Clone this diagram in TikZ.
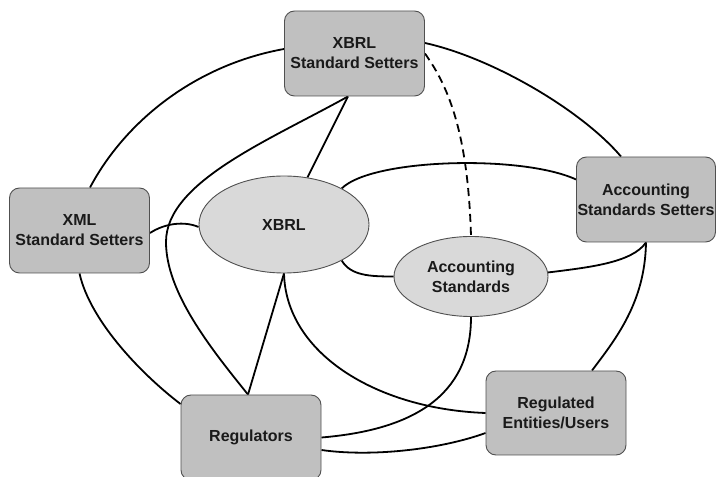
\documentclass[tikz,border=0pt]{standalone}
\usepackage{fontspec}
\setmainfont{Liberation Sans}
\usetikzlibrary{shapes.geometric,backgrounds}
\definecolor{boxfill}{HTML}{C0C0C0}
\definecolor{ovalfill}{HTML}{D9D9D9}
\definecolor{edge}{HTML}{505050}
\definecolor{ink}{HTML}{1A1A1A}

\begin{document}
\begin{tikzpicture}[x=1pt,y=1pt,
  label text/.style={font=\fontsize{16}{20}\selectfont\bfseries, text=ink, align=center},
  party/.style={label text, draw=edge, line width=0.9pt, fill=boxfill,
    rounded corners=10pt, minimum width=140pt, minimum height=85pt, inner sep=0pt},
  topic/.style={label text, ellipse, draw=edge, line width=0.9pt, fill=ovalfill, inner sep=0pt},
  link/.style={line width=1.8pt, black},
  loose link/.style={link, dash pattern=on 8pt off 5pt}]
\useasboundingbox (0,0) rectangle (716,477);

% parties
\node[party] (xss) at (354.5,423.5) {XBRL\\Standard Setters};
\node[party] (xml) at (79.5,246.5) {XML\\Standard Setters};
\node[party, minimum width=139pt] (ass) at (646,277.5) {Accounting\\Standards Setters};
\node[party, minimum height=84pt] (reu) at (556,64) {Regulated\\Entities/Users};
\node[party] (reg) at (251,39.5) {Regulators};

% topics
\node[topic, minimum width=170pt, minimum height=97pt] (xbrl) at (284,252.5) {XBRL};
\node[topic, minimum width=154pt, minimum height=80pt] (as) at (471,200.5) {Accounting\\Standards};

\coordinate (bend) at (166,235);

\begin{scope}[on background layer]
  % outer ring
  \draw[link] ([xshift=10.5]xml.north) .. controls +(35,66) and +(-89,-16) .. ([yshift=4.5]xss.west);
  \draw[link] ([yshift=10.5]xss.east) .. controls +(68,-15) and +(-39,46) .. ([xshift=-25]ass.north);
  \draw[link] (xml.south) .. controls +(11,-49) and +(-36.5,27.7) .. ([yshift=33.5]reg.west);
  \draw[link] (ass.south) .. controls +(-1,-60) and +(24,32) .. ([xshift=36]reu.north);
  \draw[link] ([yshift=-12.5]reg.east) .. controls +(48.5,-7) and +(-47,-17) .. ([yshift=-20]reu.west);

  % XBRL standard setters
  \draw[loose link] (xss.east) .. controls +(25,-35) and +(-3,100) .. (as.north);
  \draw[link] ([xshift=-6.5]xss.south) -- (xbrl);
  \draw[link] ([xshift=-6.5]xss.south) .. controls +(-79,-44) and +(0,60) .. (bend)
     .. controls +(0,-50) and +(-38,47) .. ([xshift=-3]reg.north);

  % XBRL
  \draw[link] ([yshift=-2.5]xml.east) .. controls +(15.5,10) and +(-14,6) .. ([yshift=-2.5]xbrl.west);
  \draw[link] (xbrl.south) -- ([xshift=-3]reg.north);
  \draw[link] (xbrl.south) .. controls +(2,-80) and +(-109,4) .. (reu.west);
  \draw[link] (xbrl.32) .. controls +(30,30) and +(-54,25) .. ([yshift=20]ass.west);
  \draw[link] (xbrl.-32) .. controls +(9,-15) and +(-24,0) .. (as.west);

  % accounting standards
  \draw[link] (as.3) .. controls +(40,5) and +(-14,-20.5) .. (ass.south);
  \draw[link] (as.south) .. controls +(0,-80) and +(90,7.5) .. (reg.east);
\end{scope}
\end{tikzpicture}
\end{document}
